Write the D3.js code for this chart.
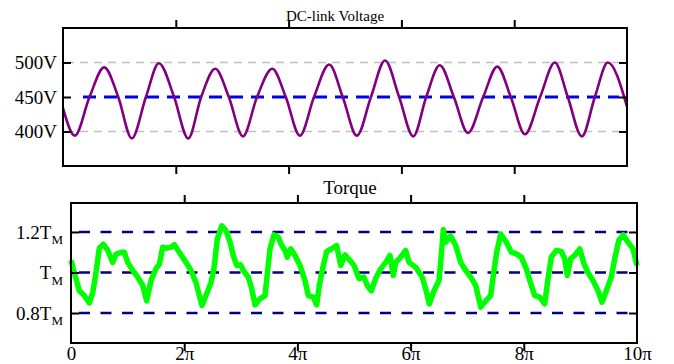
<!DOCTYPE html>
<html>
<head>
<meta charset="utf-8">
<script src="https://cdn.jsdelivr.net/npm/d3@7"></script>
<style>
  body { margin: 0; background: #fff; }
  svg text { font-family: "Liberation Serif", "Times New Roman", Times, serif !important; fill: #000; }
</style>
</head>
<body>
<svg id="chart"></svg>
<script>
// Chart size
const width = 674;
const height = 364;

// x values are in units of pi (0 .. 10pi)
const xTicks = [0, 2, 4, 6, 8, 10];

// DC-link voltage trace (extremes and mid-crossings)
const voltT = [0, 0.21, 0.47, 0.73, 0.98, 1.22, 1.47, 1.70, 1.97, 2.22, 2.45, 2.70, 2.94, 3.19, 3.44, 3.71,
  3.95, 4.20, 4.45, 4.72, 4.96, 5.21, 5.46, 5.71, 5.96, 6.21, 6.44, 6.68, 6.93, 7.18, 7.45, 7.70,
  7.94, 8.19, 8.46, 8.72, 8.95, 9.20, 9.43, 9.66, 10];
const voltVal = [434, 394, 450, 493, 450, 390, 450, 499, 450, 390, 450, 491, 450, 393, 450, 491,
  450, 394, 450, 497, 450, 394, 450, 503, 450, 393, 450, 496, 450, 398, 450, 494,
  450, 396, 450, 500, 450, 393, 450, 500, 436];
const voltTicks = [400, 450, 500];

// Torque trace (per unit of T_M)
const torqueT = [0, 0.058, 0.147, 0.235, 0.323, 0.383, 0.442, 0.5, 0.571, 0.648, 0.737, 0.795, 0.883, 0.942,
  1.002, 1.09, 1.178, 1.267, 1.337, 1.413, 1.502, 1.56, 1.62, 1.678, 1.767, 1.825, 1.913, 2.032,
  2.12, 2.208, 2.267, 2.314, 2.385, 2.473, 2.527, 2.585, 2.663, 2.739, 2.809, 2.867, 2.928, 2.998,
  3.044, 3.133, 3.193, 3.251, 3.339, 3.428, 3.468, 3.516, 3.587, 3.663, 3.723, 3.781, 3.822, 3.882,
  3.958, 4.046, 4.134, 4.193, 4.281, 4.341, 4.387, 4.458, 4.518, 4.606, 4.694, 4.765, 4.841, 4.929,
  5.0, 5.088, 5.177, 5.235, 5.306, 5.383, 5.472, 5.56, 5.636, 5.694, 5.737, 5.825, 5.913, 5.972,
  6.09, 6.207, 6.284, 6.33, 6.413, 6.502, 6.542, 6.578, 6.62, 6.708, 6.797, 6.885, 6.973, 7.062,
  7.15, 7.239, 7.327, 7.415, 7.461, 7.521, 7.592, 7.691, 7.779, 7.868, 7.956, 8.044, 8.133, 8.193,
  8.281, 8.369, 8.428, 8.486, 8.574, 8.662, 8.722, 8.769, 8.829, 8.899, 8.988, 9.064, 9.134, 9.223,
  9.311, 9.382, 9.458, 9.546, 9.606, 9.677, 9.753, 9.841, 9.929, 10];
const torqueVal = [1.06, 1.0, 0.91, 0.886, 0.85, 0.9, 1.0, 1.12, 1.14, 1.11, 1.05, 1.09, 1.1, 1.1,
  1.05, 1.01, 0.977, 0.936, 0.86, 0.96, 1.02, 1.04, 1.125, 1.12, 1.125, 1.137, 1.1, 1.05,
  1.01, 0.95, 0.886, 0.837, 0.886, 0.95, 1.02, 1.166, 1.23, 1.207, 1.15, 1.084, 1.035, 1.038,
  1.01, 0.977, 0.92, 0.84, 0.87, 0.886, 0.993, 1.117, 1.186, 1.174, 1.133, 1.109, 1.076, 1.117,
  1.084, 1.035, 0.96, 0.886, 0.878, 0.84, 0.936, 1.035, 1.104, 1.117, 1.133, 1.035, 1.087, 1.06,
  1.035, 0.97, 0.977, 0.936, 0.91, 0.97, 1.018, 1.05, 1.084, 0.985, 1.05, 1.076, 1.109, 1.05,
  1.026, 0.977, 0.9, 0.845, 0.91, 0.96, 1.084, 1.212, 1.15, 1.18, 1.133, 1.05, 1.01, 0.977,
  0.936, 0.829, 0.86, 0.886, 0.985, 1.1, 1.19, 1.15, 1.1, 1.092, 1.076, 1.018, 0.936, 0.886,
  0.878, 0.845, 0.97, 1.076, 1.109, 1.104, 1.068, 0.985, 1.068, 1.084, 1.117, 1.043, 1.0, 0.96,
  0.91, 0.853, 0.91, 0.977, 1.068, 1.158, 1.186, 1.15, 1.117, 1.035];
const torqueTicks = [0.8, 1.0, 1.2];
const torqueLabels = [["0.8T", "M"], ["T", "M"], ["1.2T", "M"]];

const svg = d3.select("#chart")
  .attr("width", width)
  .attr("height", height);

const tickLen = 8;

// draw a boxed panel with inward ticks on all four sides
function drawFrame(g, x, y) {
  const [x0, x1] = x.range();
  const [y1, y0] = y.range();
  g.append("g").attr("transform", `translate(0,${y0})`)
    .call(d3.axisBottom(x).tickValues([2, 4, 6, 8]).tickSize(-tickLen).tickFormat(""));
  g.append("g").attr("transform", `translate(0,${y1})`)
    .call(d3.axisTop(x).tickValues([2, 4, 6, 8]).tickSize(-tickLen).tickFormat(""));
  g.append("g").attr("transform", `translate(${x1},0)`)
    .call(d3.axisRight(y).tickValues(y.ticksUsed).tickSize(-tickLen).tickFormat(""));
  g.selectAll(".domain").remove();
  g.selectAll(".tick line").attr("stroke", "#000").attr("stroke-width", 2);
  g.append("rect")
    .attr("x", x0).attr("y", y0)
    .attr("width", x1 - x0).attr("height", y1 - y0)
    .attr("fill", "none")
    .attr("stroke", "#000")
    .attr("stroke-width", 2);
}

// ---------- DC-link voltage panel ----------
const xV = d3.scaleLinear().domain([0, 10]).range([63, 627]);
const yV = d3.scaleLinear().domain([350, 550]).range([166, 28]);
yV.ticksUsed = voltTicks;

const gV = svg.append("g");

gV.selectAll(".grid-v")
  .data([400, 500])
  .enter().append("line")
  .attr("x1", xV(0) + 3).attr("x2", xV(10) - 3)
  .attr("y1", d => yV(d)).attr("y2", d => yV(d))
  .attr("stroke", "#c0c0c0")
  .attr("stroke-width", 1.5)
  .attr("stroke-dasharray", "8,6");

gV.append("line")
  .attr("x1", xV(0) + 20).attr("x2", xV(10) - 8)
  .attr("y1", yV(450)).attr("y2", yV(450))
  .attr("stroke", "#0000ee")
  .attr("stroke-width", 3)
  .attr("stroke-dasharray", "13,8");

gV.append("path")
  .datum(voltT.map((t, i) => [t, voltVal[i]]))
  .attr("fill", "none")
  .attr("stroke", "#800080")
  .attr("stroke-width", 2.6)
  .attr("d", d3.line().x(d => xV(d[0])).y(d => yV(d[1])).curve(d3.curveMonotoneX));

const axV = gV.append("g").attr("transform", `translate(${xV(0)},0)`)
  .call(d3.axisLeft(yV).tickValues(voltTicks).tickSize(-tickLen).tickPadding(6).tickFormat(d => d + "V"));
axV.select(".domain").remove();
axV.selectAll(".tick line").attr("stroke", "#000").attr("stroke-width", 2);
axV.selectAll(".tick text").style("font-size", "19px");

drawFrame(gV, xV, yV);

gV.append("text")
  .attr("x", 335).attr("y", 21)
  .attr("text-anchor", "middle")
  .style("font-size", "15px")
  .text("DC-link Voltage");

// ---------- Torque panel ----------
const xT = d3.scaleLinear().domain([0, 10]).range([71, 637]);
const yT = d3.scaleLinear().domain([0.652, 1.343]).range([343, 203]);
yT.ticksUsed = torqueTicks;

const gT = svg.append("g");

gT.selectAll(".grid-t")
  .data(torqueTicks)
  .enter().append("line")
  .attr("x1", xT(0) + 8).attr("x2", xT(10) - 8)
  .attr("y1", d => yT(d)).attr("y2", d => yT(d))
  .attr("stroke", "#000080")
  .attr("stroke-width", 2.6)
  .attr("stroke-dasharray", "11,10.5");

gT.append("path")
  .datum(torqueT.map((t, i) => [t, torqueVal[i]]))
  .attr("fill", "none")
  .attr("stroke", "#00ff00")
  .attr("stroke-width", 5.5)
  .attr("stroke-linejoin", "round")
  .attr("d", d3.line().x(d => xT(d[0])).y(d => yT(d[1])));

const axT = gT.append("g").attr("transform", `translate(${xT(0)},0)`)
  .call(d3.axisLeft(yT).tickValues(torqueTicks).tickSize(-tickLen).tickPadding(8).tickFormat(""));
axT.select(".domain").remove();
axT.selectAll(".tick line").attr("stroke", "#000").attr("stroke-width", 2);
axT.selectAll(".tick text")
  .style("font-size", "19px")
  .each(function(d) {
    const t = d3.select(this);
    const lab = torqueLabels[torqueTicks.indexOf(d)];
    t.append("tspan").text(lab[0]);
    t.append("tspan").attr("dy", "0.45em").style("font-size", "13px").text(lab[1]);
  });

drawFrame(gT, xT, yT);

const axB = gT.append("g").attr("transform", `translate(0,343)`)
  .call(d3.axisBottom(xT).tickValues(xTicks).tickSize(0).tickPadding(0)
    .tickFormat(d => d === 0 ? "0" : d + "\u03c0"));
axB.select(".domain").remove();
axB.selectAll(".tick text")
  .attr("dy", null)
  .attr("y", 17)
  .style("font-size", "19px");

gT.append("text")
  .attr("x", 350).attr("y", 194)
  .attr("text-anchor", "middle")
  .style("font-size", "19px")
  .text("Torque");
</script>
</body>
</html>
